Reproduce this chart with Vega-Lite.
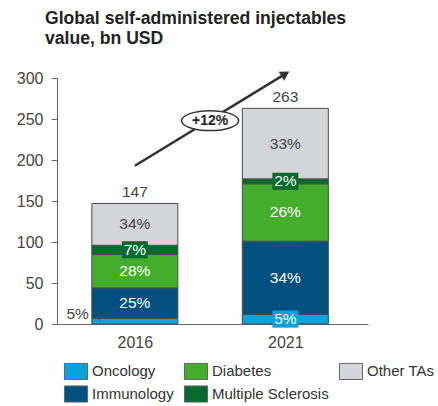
{
  "$schema": "https://vega.github.io/schema/vega-lite/v6.json",
  "width": 311,
  "height": 246,
  "autosize": {"type": "none"},
  "padding": {"left": 57, "top": 78, "right": 70, "bottom": 82},
  "background": "white",
  "config": {"view": {"stroke": null}, "font": "Liberation Sans"},
  "title": {
    "text": ["Global self-administered injectables", "value, bn USD"],
    "fontSize": 17.6,
    "fontWeight": "bold",
    "color": "#222222",
    "anchor": "start",
    "frame": "group",
    "dx": -12,
    "offset": 21,
    "lineHeight": 20
  },
  "datasets": {
    "seg": [
      {"year": 2016, "cat": "Oncology", "value": 7, "lab": "5%", "k": 1},
      {"year": 2016, "cat": "Immunology", "value": 37, "lab": "25%", "k": 2},
      {"year": 2016, "cat": "Diabetes", "value": 41, "lab": "28%", "k": 3},
      {"year": 2016, "cat": "Multiple Sclerosis", "value": 11, "lab": "7%", "k": 4},
      {"year": 2016, "cat": "Other TAs", "value": 51, "lab": "34%", "k": 5},
      {"year": 2021, "cat": "Oncology", "value": 12, "lab": "5%", "k": 1},
      {"year": 2021, "cat": "Immunology", "value": 89, "lab": "34%", "k": 2},
      {"year": 2021, "cat": "Diabetes", "value": 70, "lab": "26%", "k": 3},
      {"year": 2021, "cat": "Multiple Sclerosis", "value": 6, "lab": "2%", "k": 4},
      {"year": 2021, "cat": "Other TAs", "value": 86, "lab": "33%", "k": 5}
    ],
    "tot": [
      {"year": 2016, "v": 147, "lab": "147"},
      {"year": 2021, "v": 263, "lab": "263"}
    ],
    "arrow": [
      {"year": 2016, "v": 193},
      {"year": 2021, "v": 305}
    ],
    "head": [{"year": 2021, "v": 305}],
    "badge": [{"year": 2018.5, "v": 248, "lab": "+12%"}],
    "outl": [{"year": 2014.1, "v": 12, "lab": "5%"}],
    "lead": [
      {"year": 2014.68, "v": 8.5},
      {"year": 2014.87, "v": 3.7}
    ]
  },
  "layer": [
    {
      "data": {"name": "seg"},
      "transform": [
        {"stack": "value", "groupby": ["year"], "sort": [{"field": "k", "order": "ascending"}], "as": ["v0", "v1"]}
      ],
      "mark": {"type": "bar", "width": 86, "stroke": "#4a4a4a", "strokeWidth": 1},
      "encoding": {
        "x": {
          "field": "year", "type": "quantitative",
          "scale": {"domain": [2013.58, 2023.58], "nice": false, "zero": false},
          "axis": {"values": [2016, 2021], "format": "d", "ticks": false, "grid": false, "title": null,
                   "labelFontSize": 16, "labelColor": "#444444", "labelPadding": 10, "domainColor": "#666666"}
        },
        "y": {
          "field": "v0", "type": "quantitative",
          "scale": {"domain": [0, 300], "nice": false},
          "axis": {"values": [0, 50, 100, 150, 200, 250, 300], "grid": false, "title": null,
                   "labelFontSize": 16, "labelColor": "#444444", "tickColor": "#666666", "domainColor": "#666666",
                   "tickSize": 6, "labelPadding": 8}
        },
        "y2": {"field": "v1"},
        "color": {
          "field": "cat", "type": "nominal",
          "scale": {
            "domain": ["Oncology", "Diabetes", "Other TAs", "Immunology", "Multiple Sclerosis"],
            "range": ["#0aa3dc", "#44ae2c", "#d4d5d9", "#02507f", "#066b2c"]
          },
          "legend": {
            "orient": "none", "legendX": 7, "legendY": 281, "direction": "horizontal", "columns": 3,
            "title": null, "symbolType": "M-1,-0.7H1V0.7H-1Z", "symbolSize": 529,
            "symbolStrokeColor": "#666666", "symbolStrokeWidth": 1, "symbolOpacity": 1,
            "labelFontSize": 15, "labelColor": "#333333", "labelOffset": 4,
            "columnPadding": 8, "rowPadding": 0, "padding": 0
          }
        }
      }
    },
    {
      "data": {"name": "seg"},
      "transform": [
        {"stack": "value", "groupby": ["year"], "sort": [{"field": "k", "order": "ascending"}], "as": ["v0", "v1"]},
        {"filter": "datum.cat === 'Multiple Sclerosis' || (datum.cat === 'Oncology' && datum.year === 2021)"},
        {"fold": ["v0", "v1"], "as": ["pk", "pv"]}
      ],
      "mark": {"type": "point", "shape": "M-1,-0.66H1V0.66H-1Z", "size": 676, "filled": true, "opacity": 1},
      "encoding": {
        "x": {"field": "year", "type": "quantitative"},
        "y": {"aggregate": "mean", "field": "pv", "type": "quantitative"},
        "fill": {
          "field": "cat", "type": "nominal",
          "scale": {"domain": ["Oncology", "Multiple Sclerosis"], "range": ["#0aa3dc", "#066b2c"]},
          "legend": null
        }
      }
    },
    {
      "data": {"name": "seg"},
      "transform": [
        {"stack": "value", "groupby": ["year"], "sort": [{"field": "k", "order": "ascending"}], "as": ["v0", "v1"]},
        {"filter": "!(datum.cat === 'Oncology' && datum.year === 2016)"},
        {"fold": ["v0", "v1"], "as": ["pk", "pv"]}
      ],
      "mark": {"type": "text", "fontSize": 15.5, "baseline": "middle", "align": "center"},
      "encoding": {
        "x": {"field": "year", "type": "quantitative"},
        "y": {"aggregate": "mean", "field": "pv", "type": "quantitative"},
        "detail": {"field": "cat"},
        "text": {"field": "lab"},
        "color": {"condition": {"test": "datum.cat === 'Other TAs'", "value": "#444444"}, "value": "white"}
      }
    },
    {
      "data": {"name": "tot"},
      "mark": {"type": "text", "fontSize": 15.5, "baseline": "bottom", "dy": -3, "color": "#444444"},
      "encoding": {
        "x": {"field": "year", "type": "quantitative"},
        "y": {"field": "v", "type": "quantitative"},
        "text": {"field": "lab"}
      }
    },
    {
      "data": {"name": "arrow"},
      "mark": {"type": "line", "color": "#333333", "strokeWidth": 2.5},
      "encoding": {
        "x": {"field": "year", "type": "quantitative"},
        "y": {"field": "v", "type": "quantitative"}
      }
    },
    {
      "data": {"name": "head"},
      "mark": {"type": "point", "shape": "triangle-up", "angle": 59, "size": 110, "filled": true, "color": "#333333", "opacity": 1},
      "encoding": {
        "x": {"field": "year", "type": "quantitative"},
        "y": {"field": "v", "type": "quantitative"}
      }
    },
    {
      "data": {"name": "badge"},
      "mark": {"type": "point", "shape": "M-1,0A1,0.35 0 1,1 1,0A1,0.35 0 1,1 -1,0Z", "size": 3249,
               "filled": true, "fill": "white", "stroke": "#333333", "strokeWidth": 1.5, "opacity": 1},
      "encoding": {
        "x": {"field": "year", "type": "quantitative"},
        "y": {"field": "v", "type": "quantitative"}
      }
    },
    {
      "data": {"name": "badge"},
      "mark": {"type": "text", "fontSize": 14, "fontWeight": "bold", "color": "#222222", "baseline": "middle"},
      "encoding": {
        "x": {"field": "year", "type": "quantitative"},
        "y": {"field": "v", "type": "quantitative"},
        "text": {"field": "lab"}
      }
    },
    {
      "data": {"name": "outl"},
      "mark": {"type": "text", "fontSize": 15.5, "color": "#444444", "baseline": "middle"},
      "encoding": {
        "x": {"field": "year", "type": "quantitative"},
        "y": {"field": "v", "type": "quantitative"},
        "text": {"field": "lab"}
      }
    },
    {
      "data": {"name": "lead"},
      "mark": {"type": "line", "color": "#555555", "strokeWidth": 1},
      "encoding": {
        "x": {"field": "year", "type": "quantitative"},
        "y": {"field": "v", "type": "quantitative"}
      }
    }
  ]
}
